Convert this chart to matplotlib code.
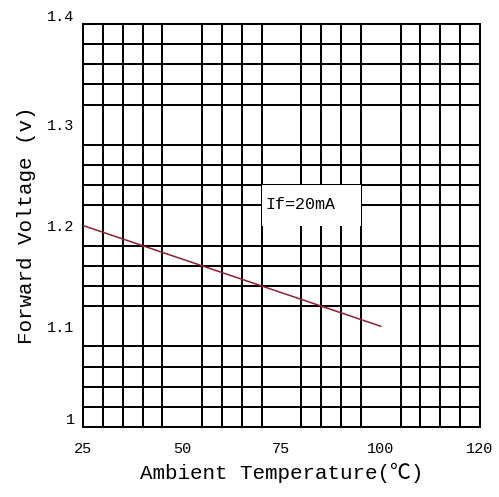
import numpy as np
import matplotlib
matplotlib.use("Agg")
import matplotlib.pyplot as plt
from matplotlib.patches import Rectangle

# data
temp = [25, 100]
vf = [1.2, 1.1]
x_ticks = [25, 50, 75, 100, 125]
x_tick_labels = ["25", "50", "75", "100", "120"]
y_ticks = [1.0, 1.1, 1.2, 1.3, 1.4]
y_tick_labels = ["1", "1.1", "1.2", "1.3", "1.4"]
note = "If=20mA"

mono = ["Liberation Mono", "Noto Sans CJK SC", "DejaVu Sans"]

fig = plt.figure(figsize=(4.99, 4.97), dpi=100)
ax = fig.add_axes([0.1663, 0.1408, 0.7956, 0.8109])

ax.set_xlim(25, 125)
ax.set_ylim(1.0, 1.4)

# grid: 20 x 20 cells
ax.set_xticks(np.linspace(25, 125, 21), minor=True)
ax.set_yticks(np.linspace(1.0, 1.4, 21), minor=True)
ax.grid(which="minor", color="black", linewidth=1.44, antialiased=False)
ax.set_axisbelow(True)
for s in ax.spines.values():
    s.set_linewidth(1.44)
    s.set_antialiased(False)

ax.set_xticks(x_ticks, x_tick_labels)
ax.set_yticks(y_ticks, y_tick_labels)
ax.tick_params(which="both", length=0)
ax.tick_params(axis="x", pad=11, labelsize=11)
ax.tick_params(axis="y", pad=6, labelsize=11)
for lab in ax.get_xticklabels() + ax.get_yticklabels():
    lab.set_fontfamily(mono)
ylabs = ax.get_yticklabels()
ylabs[0].set_va("bottom")
ylabs[-1].set_va("bottom")

ax.plot(temp, vf, color="#8e1f2c", linewidth=1.1, zorder=3)

# white box behind the condition label
ax.add_patch(Rectangle((70, 1.2), 25, 0.04, facecolor="white",
                       edgecolor="none", zorder=2))
ax.text(71, 1.221, note, fontsize=12, family=mono, va="center",
        ha="left", zorder=4)

ax.set_xlabel("Ambient Temperature(\u2103)", fontsize=15, family=mono,
              labelpad=5)
ax.set_ylabel("Forward Voltage (v)", fontsize=15, family=mono, labelpad=8)

fig.savefig("out.png", dpi=100)
